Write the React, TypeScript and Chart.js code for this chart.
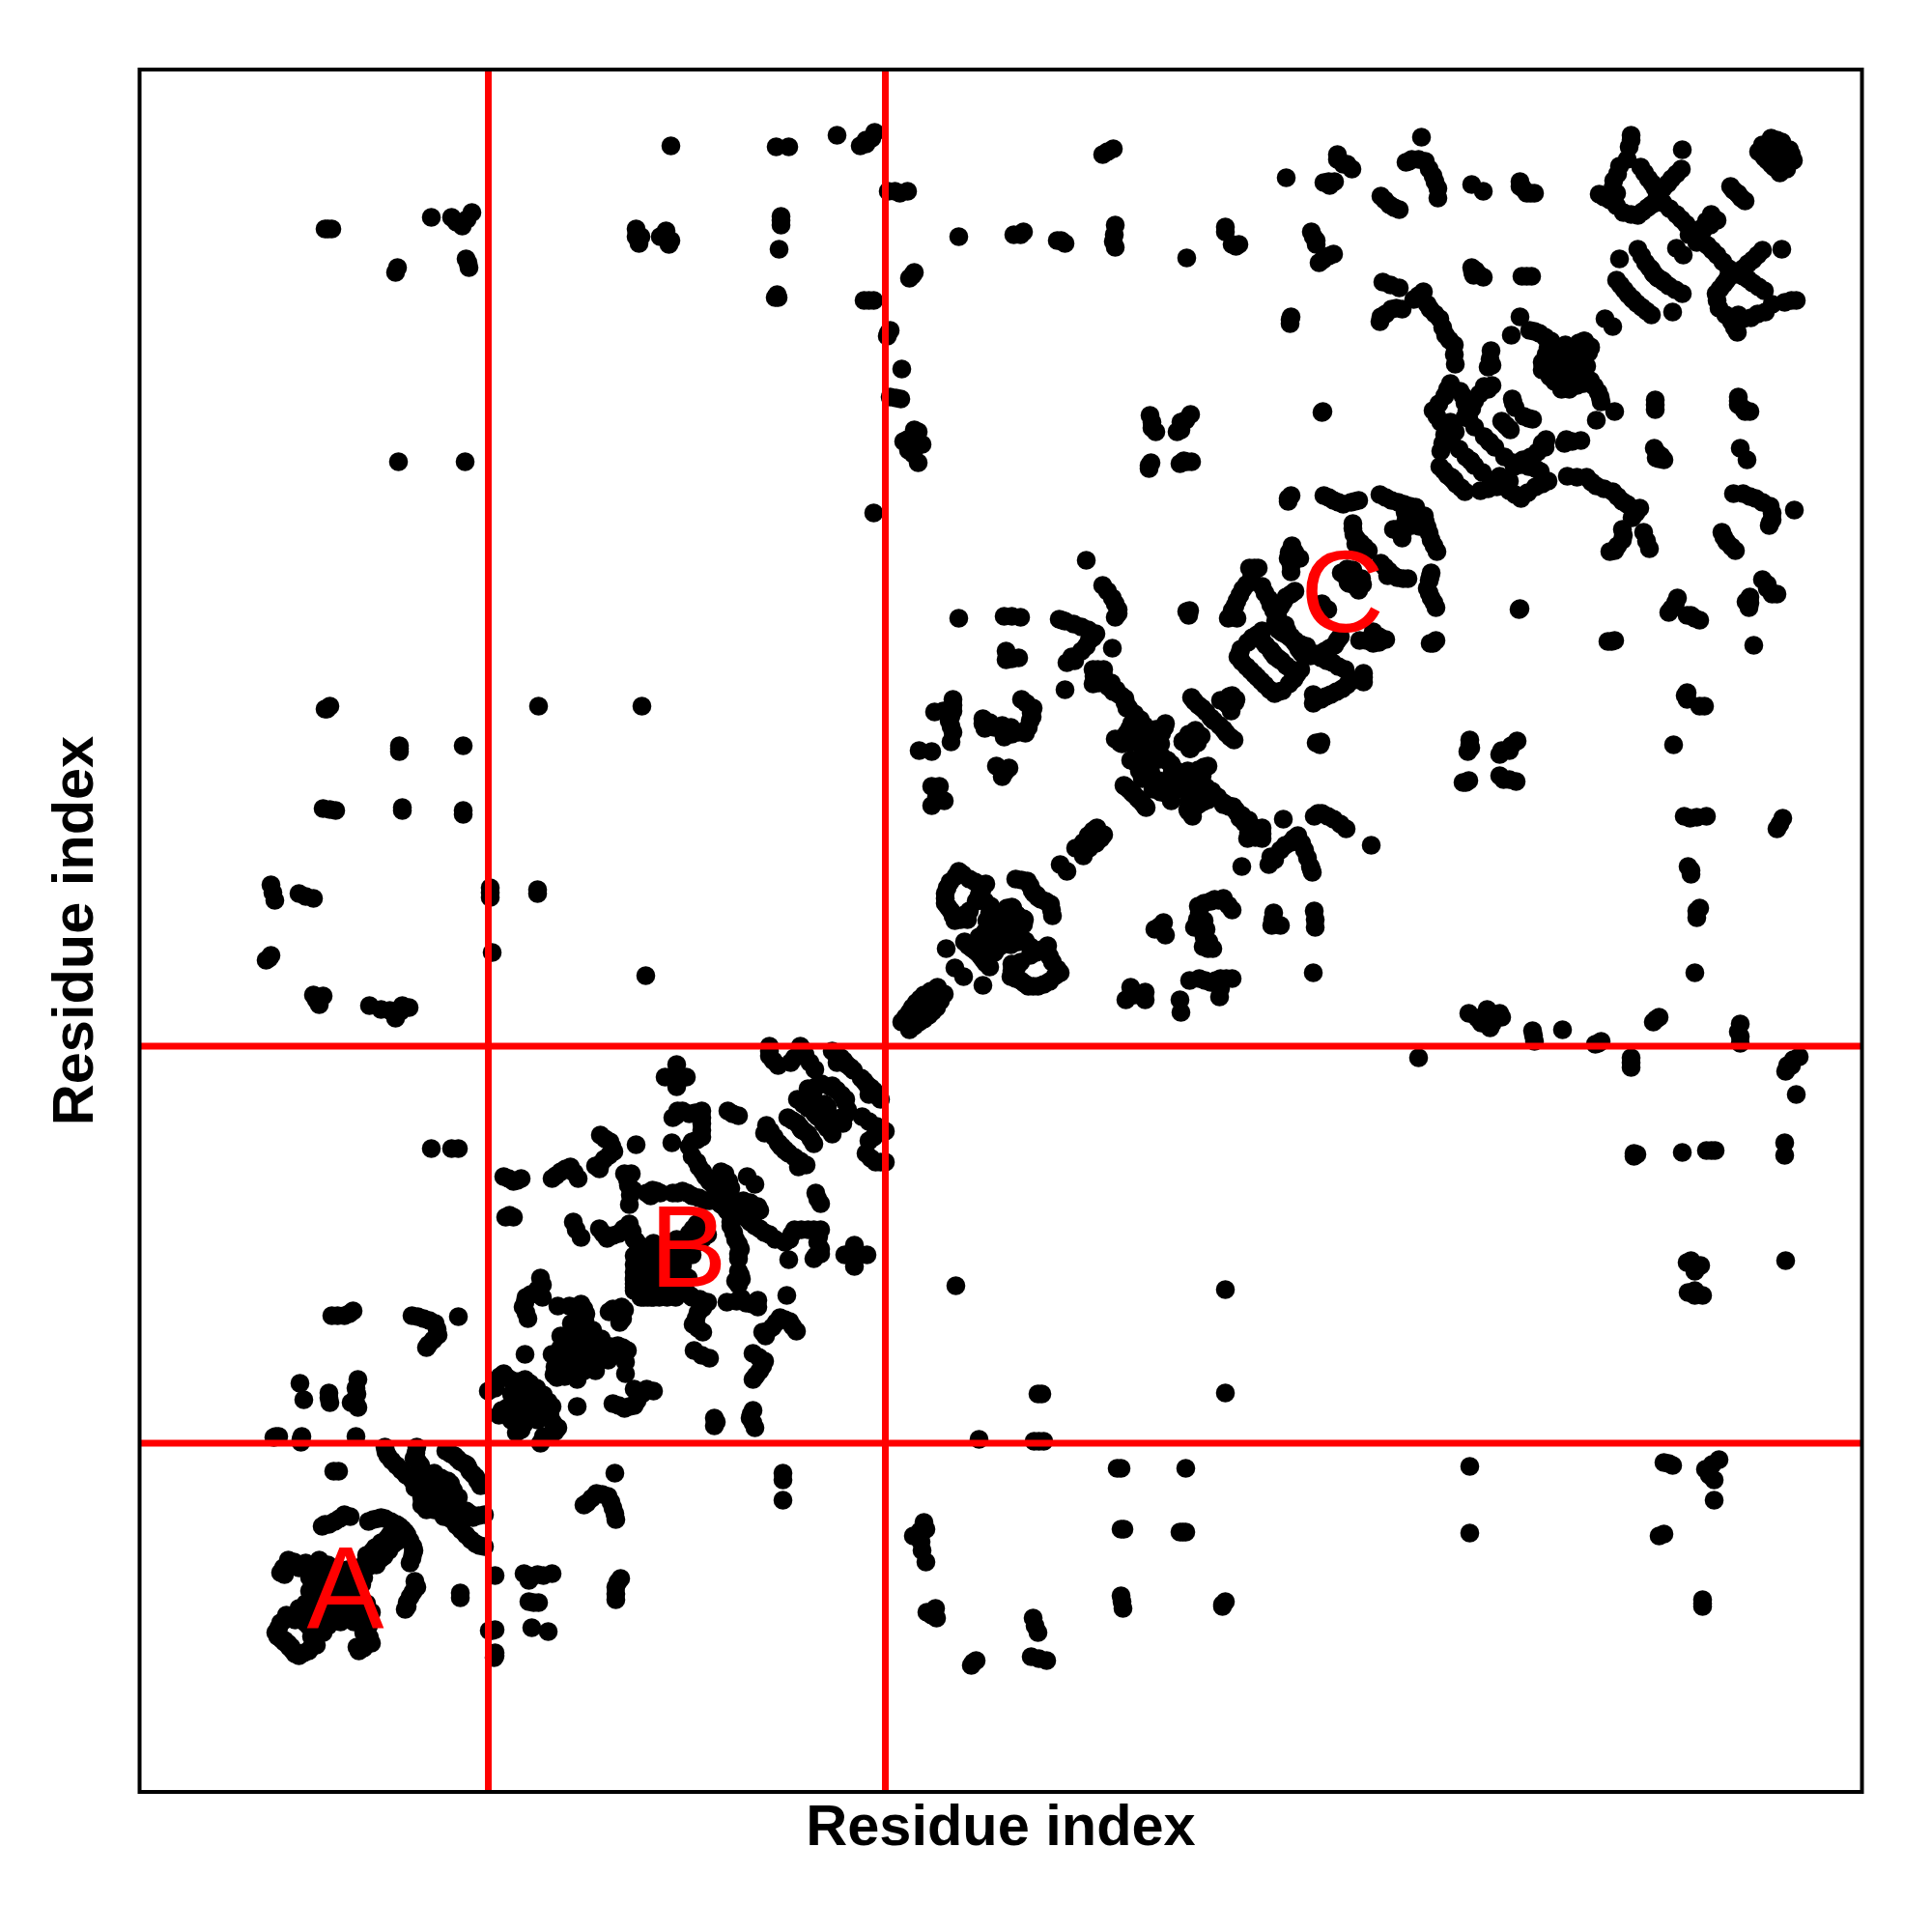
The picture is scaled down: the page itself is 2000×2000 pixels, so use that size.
import React, { useEffect, useRef } from "react";
import { Chart, registerables } from "chart.js";

Chart.register(...registerables);

const axisMax = 1783;
const axisTitle = "Residue index";
const domainBoundaries = [361, 772];
const domainLabels: [string, number, number][] = [
  ["A", 213, 213],
  ["B", 568, 566],
  ["C", 1245, 1244],
];

// Contact pairs (i, j); the contact map holds each pair in both orders.
const contactsAOuter: number[][] = [
  [199,493],[212,493],[221,498],[282,493],[294,490],[306,485],[309,473],[299,463],[297,460],[330,492],
  [166,423],[170,406],[196,413],[197,403],[226,427],[224,418],[222,405],[226,398],[219,403],
  [139,367],[144,368],[167,365],[224,368],[201,332],[206,332],
  [212,287],[202,280],[189,275],[196,277],[237,280],[247,283],[254,283],[266,277],[272,272],
  [244,253],[256,262],[236,235],[239,245],
  [205,493],[217,495],[288,492],[300,488],[308,479],[304,468],[196,408],[225,412],[224,402],[141,368],
  [167,362],[168,368],[207,283],[192,277],[218,285],[242,282],[250,284],[260,280],[269,275],[241,249],
  [250,258],[259,266],[238,240],[233,232],
];
const contactsACore: number[][] = [
  [154,240],[149,232],[146,227],[172,237],[186,240],[176,222],[176,208],[172,195],[189,222],[202,228],
  [216,228],[192,205],[209,208],[229,228],[234,238],[182,188],[196,188],[152,183],[146,175],[141,165],
  [147,158],[154,153],[161,178],[172,175],[206,222],[189,195],
  [182,230],[195,235],[183,215],[195,215],[205,215],[218,215],[225,220],[165,232],[160,238],[150,225],
  [165,190],[180,200],[190,180],[202,190],[210,198],[178,180],[150,178],[144,170],[143,161],[150,155],
  [157,150],[178,235],[222,232],[230,215],[245,235],
];
const contactsASheet: number[][] = [
  [254,357],[257,348],[266,338],[276,328],[289,318],[300,323],[314,318],[306,312],[299,305],[292,297],
  [319,322],[287,357],[284,345],[291,338],[317,353],[326,348],[332,342],[339,338],
  [255,352],[261,343],[271,333],[282,323],[296,320],[307,322],[310,315],[303,308],[296,300],[286,351],
  [288,342],[322,350],[329,345],[336,340],[295,330],[305,330],[312,325],[298,312],[292,305],[285,315],
];
const contactsB: number[][] = [
  [524,845],[377,637],[387,632],[395,635],[379,595],[387,595],[427,635],[436,642],[446,647],[454,635],
  [477,680],[487,673],[491,663],[481,655],[476,645],[472,648],[514,670],[502,640],[509,640],[506,628],
  [511,623],[507,608],[531,623],[539,620],[529,617],[449,590],[457,574],[476,583],[484,573],[496,578],
  [507,588],[512,572],[556,753],[544,740],[566,740],[556,730],[557,705],[552,698],[569,702],[582,705],
  [582,692],[582,678],[572,673],[569,668],[551,672],[609,705],[620,700],[649,690],[647,682],[657,678],
  [664,668],[671,662],[671,698],[681,692],[686,685],[652,772],[652,762],[661,752],[684,772],[674,755],
  [689,763],[699,748],[717,767],[726,760],[732,753],[739,747],[722,755],[692,728],[706,733],[721,727],
  [731,717],[681,717],[692,708],[709,712],[699,702],[629,637],[572,658],[579,647],[586,637],[594,628],
  [604,618],[602,642],[612,625],[602,608],[609,622],[552,620],[562,622],[572,617],[586,612],[595,613],
  [512,555],[512,538],[519,565],[532,568],[545,562],[556,572],[569,578],[577,588],[526,555],[529,538],
  [542,552],[512,522],[519,512],[532,512],[549,548],[562,562],[556,548],[486,497],[499,502],[415,532],
  [412,520],[400,512],[397,502],[402,490],[417,512],[433,503],[457,505],[462,495],[459,482],[436,472],
  [452,478],[469,478],[479,465],[427,453],[439,452],[452,452],[455,465],[442,462],[465,465],[429,432],
  [399,453],[361,415],[369,425],[377,433],[389,425],[399,427],[411,418],[381,398],[372,390],[385,385],
  [392,408],[399,398],[405,408],
  [382,635],[391,633],[383,597],[431,638],[441,645],[450,641],[482,676],[489,668],[486,659],[477,650],
  [505,634],[508,618],[535,622],[525,620],[452,582],[480,578],[490,576],[501,583],[510,580],[556,740],
  [562,705],[575,703],[582,698],[582,685],[577,675],[555,700],[614,702],[653,684],[661,672],[668,665],
  [676,695],[684,688],[652,767],[656,757],[687,768],[678,760],[694,755],[721,763],[729,757],[736,750],
  [697,722],[700,730],[715,730],[726,722],[687,712],[700,712],[577,652],[583,642],[590,632],[600,623],
  [607,613],[606,640],[610,632],[557,620],[567,620],[579,615],[590,612],[600,610],[519,545],[519,530],
  [535,545],[545,540],[525,525],[540,525],[548,532],[535,555],[550,558],[562,550],[512,546],[512,530],
  [514,570],[526,512],[563,570],[570,570],[573,583],[490,500],[495,497],[417,525],[405,515],[399,507],
  [400,496],[445,503],[460,500],[461,488],[445,470],[460,470],[472,470],[436,460],[432,452],[445,452],
  [460,455],[470,458],[437,442],[445,440],[455,440],[465,447],[475,455],[430,440],[447,485],[455,490],
  [373,430],[382,428],[394,425],[404,423],[408,415],[414,410],[385,412],[375,395],[390,395],[395,388],
  [388,415],[398,415],[402,400],[368,418],
];
const contactsCFirst: number[][] = [
  [789,797],[797,807],[804,817],[812,825],[826,833],[809,813],[817,817],[844,853],[835,873],[848,953],
  [839,942],[834,930],[834,920],[840,912],[844,902],[857,903],[859,912],[859,945],[876,940],[869,928],
  [881,917],[877,902],[866,922],[904,915],[916,903],[896,902],[904,898],[889,908],[907,945],[919,943],
  [924,933],[929,928],[854,880],[862,873],[869,868],[882,885],[887,892],[869,885],[953,960],[969,977],
  [982,990],[991,998],
  [793,802],[800,812],[808,821],[819,829],[845,948],[836,936],[834,925],[837,916],[842,907],[850,903],
  [854,908],[852,950],[865,942],[872,934],[875,922],[880,910],[898,915],[908,908],[910,895],[900,908],
  [895,895],[885,898],[882,903],[913,944],[922,938],[926,930],[858,876],[866,870],[875,890],[885,878],
  [890,882],[898,888],[875,875],[893,900],[987,995],[977,983],
];
const contactsCSecond: number[][] = [
  [1021,820],[1026,833],[1041,828],[1041,820],[1077,820],[1078,807],[1097,842],[1109,838],[1119,842],
  [1131,842],[1118,823],[1215,848],[1051,893],[1060,900],[1062,887],[1131,913],[1109,922],[1096,917],
  [1117,923],[1092,895],[1102,902],[1102,885],[1111,873],[1101,875],[1174,910],[1172,897],[1181,897],
  [1216,912],[1217,895],[1141,958],[1169,960],[1171,968],[1181,975],[1192,983],[1199,990],[1206,975],
  [1212,958],[1214,952],[1184,1007],[1216,1010],[1224,1013],[1236,1007],[1249,997],[1019,1042],
  [1029,1033],[1041,1020],[1086,1015],[1096,1022],[1106,1027],[1109,1035],[1122,1022],[1132,1020],
  [1139,1008],[1149,998],[1147,987],[1162,998],[1162,987],
  [1035,826],[1030,825],[1087,840],[1103,840],[1114,840],[1125,842],[1119,832],[1056,896],[1127,918],
  [1122,925],[1113,924],[1102,920],[1097,910],[1095,903],[1104,893],[1107,880],[1106,873],[1173,903],
  [1217,903],[1175,965],[1186,980],[1195,987],[1203,982],[1209,967],[1213,955],[1220,1013],[1230,1010],
  [1243,1002],[1024,1038],[1035,1027],[1091,1018],[1101,1025],[1114,1030],[1127,1021],[1136,1014],
  [1144,1003],[1155,998],[1155,988],[1148,993],[1162,992],
];
const contactsCThird: number[][] = [
  [1049,1038],[1065,1032],[1079,1042],[1096,1042],[1096,1058],[1106,1062],[1085,1057],[1069,1052],[1055,1047],
  [1006,1148],[1016,1135],[1024,1122],[1036,1110],[1044,1098],[1061,1102],[1056,1095],[1049,1088],[1037,1088],
  [1017,1085],[1010,1090],[1026,1068],[1036,1065],[1049,1070],[1064,1068],[1072,1058],[1080,1088],[1092,1095],
  [1099,1093],[1087,1080],[1089,1133],[1096,1125],[1104,1118],[1109,1112],[1124,1130],[1131,1135],[1119,1130],
  [1140,1183],[1152,1195],[1162,1202],[1137,1175],[1146,1165],[1154,1157],[1162,1192],[1171,1182],[1176,1175],
  [1179,1203],[1187,1198],[1196,1192],[1202,1188],[1149,1267],[1158,1267],[1151,1257],[1142,1245],[1136,1233],
  [1131,1223],[1127,1215],[1136,1215],[1162,1248],[1169,1235],[1174,1223],[1196,1243],[1187,1237],[1181,1227],
  [1186,1208],[1176,1212],[1193,1290],[1189,1277],[1201,1277],[1192,1263],[1224,1230],[1244,1262],[1256,1265],
  [1251,1252],[1189,1339],[1226,1342],[1236,1337],[1246,1333],[1254,1335],[1262,1337],[1256,1313],[1257,1302],
  [1264,1293],[1272,1285],[1259,1292],[1284,1343],[1296,1337],[1309,1333],[1321,1330],[1322,1325],[1311,1317],
  [1301,1307],[1307,1298],[1087,1223],[1429,1225],[1045,1373],[1077,1375],[1089,1377],[1084,1377],
  [1057,1035],[1072,1037],[1087,1042],[1090,1050],[1102,1060],[1011,1141],[1020,1128],[1030,1116],[1040,1104],
  [1052,1100],[1043,1088],[1025,1086],[1015,1090],[1031,1066],[1043,1068],[1056,1069],[1068,1063],[1086,1092],
  [1095,1086],[1092,1129],[1100,1122],[1127,1125],[1128,1134],[1147,1190],[1157,1198],[1139,1179],[1141,1170],
  [1150,1161],[1166,1187],[1174,1178],[1180,1172],[1183,1200],[1191,1195],[1154,1267],[1146,1250],[1139,1239],
  [1134,1228],[1165,1241],[1171,1229],[1192,1240],[1184,1232],[1178,1218],[1190,1283],[1196,1283],[1192,1270],
  [1249,1258],[1250,1266],[1231,1340],[1241,1335],[1258,1336],[1256,1308],[1260,1297],[1268,1289],[1290,1340],
  [1303,1335],[1315,1331],[1306,1302],[1086,1218],[1081,1378],[1189,1336],[1192,1342],[1045,1370],[1047,1376],
  [1084,1222],[1310,1325],[1318,1322],
];
const contactsCFourth: number[][] = [
  [1327,1713],[1311,1687],[1317,1690],[1331,1688],[1339,1673],[1344,1660],[1344,1650],[1285,1652],[1294,1643],
  [1304,1638],[1379,1664],[1391,1657],[1429,1667],[1436,1655],[1444,1655],[1379,1578],[1381,1570],[1391,1568],
  [1436,1569],[1287,1563],[1304,1557],[1329,1553],[1319,1545],[1336,1535],[1346,1525],[1352,1508],[1361,1498],
  [1362,1478],[1284,1522],[1285,1527],[1296,1535],[1307,1535],[1399,1492],[1396,1475],[1400,1477],[1429,1527],
  [1420,1508],[1439,1513],[1449,1510],[1461,1502],[1456,1488],[1452,1472],[1466,1488],[1476,1498],[1496,1502],
  [1502,1495],[1489,1478],[1476,1475],[1496,1478],[1466,1462],[1476,1453],[1517,1525],[1532,1587],[1529,1565],
  [1537,1555],[1546,1545],[1551,1597],[1559,1583],[1567,1572],[1576,1565],[1544,1715],[1542,1703],[1511,1654],
  [1522,1648],[1536,1635],[1551,1632],[1561,1640],[1569,1645],[1529,1655],[1532,1683],[1526,1668],[1554,1682],
  [1562,1670],[1569,1660],[1586,1670],[1596,1680],[1577,1660],[1597,1700],[1577,1645],[1591,1633],[1601,1623],
  [1609,1615],[1604,1612],[1627,1633],[1616,1618],[1591,1598],[1647,1662],[1654,1655],[1689,1712],[1700,1708],
  [1676,1698],[1687,1698],[1694,1695],[1707,1700],[1689,1685],
  [1314,1688],[1324,1690],[1335,1680],[1341,1667],[1289,1648],[1299,1640],[1383,1575],[1386,1571],[1380,1573],
  [1295,1560],[1324,1549],[1333,1540],[1341,1530],[1349,1516],[1356,1503],[1361,1488],[1290,1530],[1301,1536],
  [1398,1483],[1444,1512],[1455,1506],[1458,1495],[1452,1480],[1460,1480],[1470,1470],[1480,1465],[1485,1490],
  [1490,1500],[1470,1480],[1482,1482],[1460,1465],[1485,1458],[1480,1495],[1490,1470],[1533,1560],[1541,1550],
  [1555,1590],[1563,1578],[1571,1568],[1544,1710],[1516,1651],[1529,1642],[1544,1633],[1556,1636],[1565,1643],
  [1540,1690],[1530,1675],[1525,1660],[1558,1676],[1566,1665],[1591,1675],[1582,1665],[1571,1652],[1584,1639],
  [1596,1628],[1605,1618],[1622,1626],[1650,1658],[1695,1710],[1680,1705],[1682,1692],[1700,1695],[1683,1700],
  [1688,1705],[1697,1702],[1694,1688],[1700,1688],[1429,1662],[1432,1660],[1440,1655],[1431,1569],[1441,1569],
];
const contactsCFifth: number[][] = [
  [1357,1458],[1351,1445],[1339,1430],[1347,1418],[1357,1418],[1370,1445],[1374,1430],[1362,1408],[1392,1455],
  [1400,1456],[1382,1440],[1376,1422],[1421,1442],[1424,1433],[1411,1418],[1419,1410],[1346,1372],[1354,1363],
  [1361,1358],[1358,1399],[1366,1390],[1373,1382],[1378,1378],[1372,1423],[1382,1413],[1392,1403],[1398,1397],
  [1347,1388],[1351,1405],[1354,1452],[1345,1437],[1343,1424],[1367,1450],[1372,1438],[1387,1447],[1396,1452],
  [1379,1432],[1422,1438],[1415,1414],[1350,1368],[1358,1360],[1349,1396],[1354,1400],
];
const contactsInterDomain: number[][] = [
  [195,1618],[267,1578],[265,1573],[302,1630],[323,1630],[334,1621],[344,1635],[338,1587],[341,1578],[268,1377],
  [337,1377],[194,1121],[269,1080],[335,1083],[190,1018],[203,1016],[272,1016],[335,1016],[136,939],[140,923],
  [165,930],[180,925],[363,936],[363,926],[412,934],[136,866],[131,861],[365,869],[180,825],[190,824],[186,815],
  [238,814],[259,809],[272,814],[279,812],[265,801],[413,1124],[520,1124],[302,666],[323,666],[330,666],[550,1704],
  [659,1703],[672,1703],[722,1715],[746,1704],[761,1718],[752,1710],[775,1657],[795,1657],[514,1618],[517,1603],
  [545,1616],[548,1602],[664,1631],[664,1622],[662,1597],[661,1547],[755,1544],[777,1513],[774,1507],[789,1473],
  [777,1444],[788,1442],[806,1408],[796,1389],[806,1376],[791,1398],[760,1324],[797,1567],[802,1573],[848,1610],
  [912,1612],[954,1606],[1010,1622],[1010,1599],[1008,1701],[997,1695],[1084,1588],[1124,1620],[1131,1602],
  [1138,1602],[1187,1671],[1215,1610],[1218,1602],[1231,1590],[1221,1583],[1191,1524],[1224,1428],[1226,1666],
  [1237,1667],[1240,1695],[1255,1680],[1046,1425],[1048,1412],[1074,1408],[1078,1418],[1088,1426],[980,1275],
  [192,1618],[199,1618],[192,1121],[197,1124],[269,1083],[269,1077],[197,1017],[272,1019],[335,1012],[138,931],
  [172,927],[363,931],[412,930],[134,863],[183,820],[250,810],[270,808],[340,1583],[328,1625],[339,1628],
  [664,1627],[658,1547],[660,1550],[750,1544],[760,1544],[775,1510],[783,1443],[800,1398],[801,1385],[795,1400],
  [800,1570],[802,1410],[810,1395],[905,1612],[915,1615],[950,1606],[958,1603],[1009,1612],[1008,1605],[1002,1698],
  [1124,1615],[1135,1600],[1218,1606],[1225,1586],[1192,1527],[1191,1520],[1048,1418],[1052,1408],[1078,1410],
  [1083,1420],[1231,1667],[1246,1685],[1240,1690],[1250,1685],[1232,1663],[1213,1615],[1236,1592],[758,1712],
  [782,1657],[787,1655],[514,1610],[545,1610],[550,1606],[539,1610],[519,1610],[752,1706],
];

const allContacts = [
  contactsAOuter, contactsACore, contactsASheet, contactsB, contactsCFirst, contactsCSecond,
  contactsCThird, contactsCFourth, contactsCFifth, contactsInterDomain,
].flat();

export default function App() {
  const ref = useRef<HTMLCanvasElement>(null);
  useEffect(() => {
    const titleFont = { family: "'Liberation Sans', Arial, sans-serif", size: 59.5, weight: "bold" as const };
    const frameAndLabels = {
      id: "frameAndLabels",
      afterDraw(chart: any) {
        const { ctx, chartArea, scales } = chart;
        ctx.save();
        ctx.strokeStyle = "#000";
        ctx.lineWidth = 4;
        ctx.strokeRect(chartArea.left, chartArea.top, chartArea.width, chartArea.height);
        ctx.fillStyle = "#ff0000";
        ctx.font = "120px 'Liberation Sans', Arial, sans-serif";
        ctx.textAlign = "center";
        ctx.textBaseline = "alphabetic";
        domainLabels.forEach(([t, x, y]) => {
          ctx.fillText(t, scales.x.getPixelForValue(x), scales.y.getPixelForValue(y) + 43);
        });
        ctx.restore();
      },
    };
    const boundaryLine = (data: { x: number; y: number }[]) => ({
      data,
      showLine: true,
      borderColor: "#ff0000",
      borderWidth: 7,
      pointRadius: 0,
      order: 0,
      fill: false,
    });
    const chart = new Chart(ref.current!, {
      type: "scatter",
      plugins: [frameAndLabels],
      data: {
        datasets: [
          ...domainBoundaries.flatMap((b) => [
            boundaryLine([{ x: b, y: 0 }, { x: b, y: axisMax }]),
            boundaryLine([{ x: 0, y: b }, { x: axisMax, y: b }]),
          ]),
          {
            data: allContacts.flatMap(([i, j]) => [{ x: i, y: j }, { x: j, y: i }]),
            backgroundColor: "#000",
            borderWidth: 0,
            pointRadius: 9.8,
            order: 1,
          },
        ] as any,
      },
      options: {
        animation: false,
        responsive: false,
        devicePixelRatio: 1,
        events: [],
        layout: { padding: { top: 72, right: 72.5, left: 0, bottom: 0 } },
        plugins: { legend: { display: false }, tooltip: { enabled: false } },
        scales: {
          x: {
            type: "linear",
            min: 0,
            max: axisMax,
            grid: { display: false },
            border: { display: false },
            ticks: { display: false },
            title: { display: true, text: axisTitle, font: titleFont, color: "#000", padding: { top: 0, bottom: 70.6 } },
            afterFit(scale: any) { scale.height = 145; },
          },
          y: {
            type: "linear",
            min: 0,
            max: axisMax,
            grid: { display: false },
            border: { display: false },
            ticks: { display: false },
            title: { display: true, text: axisTitle, font: titleFont, color: "#000", padding: { top: 44, bottom: 0 } },
            afterFit(scale: any) { scale.width = 144.5; },
          },
        },
      } as any,
    });
    return () => chart.destroy();
  }, []);
  return (
    <div style={{ position: "absolute", left: 0, top: 0, width: 2000, height: 2000, background: "#fff" }}>
      <canvas ref={ref} width={2000} height={2000} style={{ display: "block" }} />
    </div>
  );
}
